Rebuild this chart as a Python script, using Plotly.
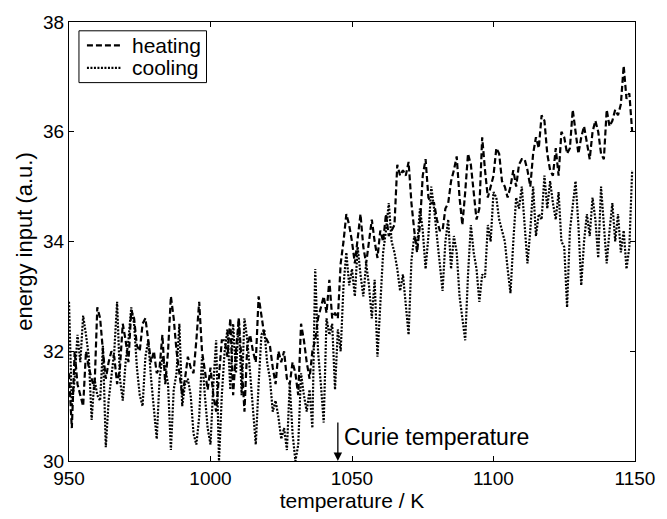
import plotly.graph_objects as go

temperature = list(range(950, 1150))

heating = [
31.6,30.6,32.0,31.4,31.2,31.0,32.0,31.7,31.5,31.3,
32.8,32.6,32.0,31.5,31.8,32.0,31.9,31.4,31.7,32.5,
32.2,31.8,32.75,32.6,32.1,32.0,32.5,32.6,32.2,31.8,
32.0,31.6,31.7,32.3,31.4,32.0,33.0,32.6,32.0,31.6,
31.2,31.5,31.9,31.7,31.6,32.2,32.9,32.0,31.6,31.3,
31.7,31.2,30.9,31.5,32.2,32.2,31.9,32.6,31.2,32.0,
32.6,31.8,30.9,32.1,32.3,32.0,31.8,33.0,32.6,32.3,
32.2,32.1,31.7,31.4,32.0,31.8,32.0,31.5,31.4,31.8,
31.6,31.2,32.5,32.2,31.8,31.5,32.0,32.2,32.6,32.8,
33.0,32.7,33.3,32.6,32.7,32.6,33.6,34.0,34.5,34.3,
34.0,33.6,34.1,34.5,33.9,33.6,34.0,34.4,34.0,33.7,
34.2,34.0,34.5,34.1,34.2,34.3,35.4,35.2,35.3,35.2,
35.45,34.7,34.2,33.8,34.3,35.2,35.5,34.8,34.7,34.7,
34.4,34.2,34.2,34.6,34.7,35.1,35.3,35.55,34.8,34.3,
34.9,35.6,35.4,34.9,34.4,34.6,35.9,35.3,34.8,35.0,
35.2,35.7,35.6,35.1,35.0,34.8,35.0,35.3,35.0,35.4,
35.5,35.5,35.3,35.0,35.6,35.9,35.7,36.3,36.2,35.6,
35.3,35.2,35.7,35.2,36.0,35.9,35.6,35.7,36.4,36.0,
35.6,35.9,36.1,35.8,35.5,36.0,36.2,36.0,35.6,35.5,
36.4,36.1,36.2,36.4,36.3,36.5,37.2,36.6,36.7,36.0,
]

cooling = [
32.9,31.0,31.5,32.3,31.8,32.65,32.3,31.9,30.75,31.5,
31.2,31.1,32.1,30.25,31.1,31.6,32.0,32.9,31.5,31.1,
31.8,32.2,32.8,32.5,31.7,31.2,31.0,31.9,32.2,31.5,
30.9,30.4,31.5,31.9,31.7,31.4,30.2,31.3,31.6,32.5,
31.0,31.4,31.5,31.2,30.5,30.3,30.8,31.9,31.2,30.6,
30.3,31.4,32.2,30.0,31.2,32.0,32.4,31.3,32.5,31.6,
32.6,31.2,32.6,32.2,31.6,30.9,30.3,31.4,32.3,32.4,
31.8,31.5,30.9,31.1,30.8,30.4,30.6,30.2,31.4,30.5,
30.0,30.3,31.6,31.2,30.9,31.3,30.6,33.5,32.0,31.4,
30.7,32.6,32.3,32.5,31.3,32.4,32.0,33.2,33.8,33.2,
33.5,33.0,33.9,33.4,33.0,33.6,33.2,32.6,33.3,31.9,
32.8,33.8,34.2,34.7,34.0,33.8,33.5,33.1,33.4,32.8,
32.3,33.65,34.1,33.9,34.6,34.2,33.5,34.1,35.0,34.6,
34.1,33.6,33.1,34.0,34.4,33.5,34.1,33.8,33.0,32.6,
32.2,33.4,34.3,33.8,33.5,32.9,33.4,33.35,34.3,34.0,
34.9,34.8,34.4,34.2,34.0,33.5,33.06,34.0,34.8,34.6,
35.0,34.3,33.6,34.2,35.0,34.1,34.5,34.4,35.2,34.6,
35.1,34.7,34.4,34.9,34.0,33.9,32.8,34.2,34.7,35.1,
34.3,33.2,34.0,34.5,34.1,34.8,34.4,33.7,35.0,34.2,
33.6,34.2,34.7,34.0,34.5,33.8,34.2,33.5,33.9,35.3,
]

series_names = ["heating", "cooling"]
series_dash = ["6px,3px", "2px,1.5px"]

x_ticks = [950, 1000, 1050, 1100, 1150]
y_ticks = [30, 32, 34, 36, 38]
curie_T = 1045

FONT = "Liberation Sans, Arial, sans-serif"

fig = go.Figure()
for name, ys, dash in zip(series_names, [heating, cooling], series_dash):
    fig.add_trace(go.Scatter(x=temperature, y=ys, mode="lines", name=name, showlegend=False,
                             line=dict(color="black", width=2.2, dash=dash)))

axis_common = dict(showline=True, linecolor="black", linewidth=1, mirror="ticks",
                   ticks="inside", ticklen=5, tickcolor="black", showgrid=False,
                   zeroline=False, tickfont=dict(family=FONT, size=19, color="black"))

fig.update_xaxes(range=[950, 1150], tickvals=x_ticks, **axis_common,
                 title=dict(text="temperature / K", font=dict(family=FONT, size=21, color="black"), standoff=4))
fig.update_yaxes(range=[30, 38], tickvals=y_ticks, **axis_common,
                 title=dict(text="energy input (a.u.)", font=dict(family=FONT, size=22, color="black"), standoff=4))

fig.add_annotation(x=curie_T, y=30, xref="x", yref="y", ax=0, ay=-40, showarrow=True,
                   arrowhead=2, arrowsize=1.3, arrowwidth=1.3, arrowcolor="black", text="")
fig.add_annotation(x=curie_T, y=30, xref="x", yref="y", xanchor="left", yanchor="bottom",
                   xshift=4, yshift=9, showarrow=False, text="Curie temperature",
                   font=dict(family=FONT, size=23, color="black"))

# legend box drawn in paper coordinates (plot area: 568 x 449 px)
PW, PH = 568.0, 449.0
def px(x):
    return x / PW
def py(y):
    return 1 - y / PH

fig.add_shape(type="rect", xref="paper", yref="paper",
              x0=px(10), x1=px(138), y0=py(62), y1=py(9),
              line=dict(color="black", width=1), fillcolor="white", layer="above")
for i, (name, dash) in enumerate(zip(series_names, series_dash)):
    yy = 24 + 23 * i
    fig.add_shape(type="line", xref="paper", yref="paper",
                  x0=px(18), x1=px(52), y0=py(yy), y1=py(yy),
                  line=dict(color="black", width=2.2, dash=dash), layer="above")
    fig.add_annotation(xref="paper", yref="paper", x=px(61), y=py(yy), xanchor="left",
                       yanchor="middle", showarrow=False, text=name,
                       font=dict(family=FONT, size=21, color="black"))

fig.update_layout(
    width=667, height=519,
    margin=dict(l=69, r=30, t=13, b=57),
    plot_bgcolor="white", paper_bgcolor="white",
    showlegend=False,
)

fig.write_html("out.html")
